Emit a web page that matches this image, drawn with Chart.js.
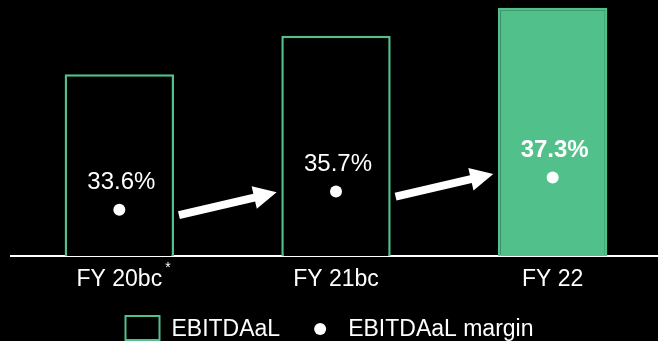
<!DOCTYPE html>
<html>
<head>
<meta charset="utf-8">
<script src="https://cdn.jsdelivr.net/npm/chart.js@4/dist/chart.umd.min.js"></script>
<style>
  html, body { margin: 0; padding: 0; background: #000; overflow: hidden; }
  canvas { display: block; }
</style>
</head>
<body>
<canvas id="chart" width="661" height="341"></canvas>
<script>
// EBITDAaL development with margin, fiscal years 20–22
const categories = ['FY 20bc', 'FY 21bc', 'FY 22'];
const tickNotes = ['*', '', ''];
const ebitdaal = [7.1, 8.6, 9.7];
const margin = [33.6, 35.7, 37.3];
const seriesNames = ['EBITDAaL', 'EBITDAaL margin'];

const GREEN = 'rgb(82,192,138)';
const WHITE = '#ffffff';
const FONT = '"Liberation Sans", Arial, Helvetica, sans-serif';

// margin labels above the dots and trend arrows between years
const annotations = {
  id: 'annotations',
  afterDatasetsDraw(chart) {
    const { ctx, scales: { x, y2 } } = chart;
    ctx.save();
    ctx.fillStyle = WHITE;
    ctx.textAlign = 'center';
    ctx.textBaseline = 'middle';
    margin.forEach((v, i) => {
      const bold = i === margin.length - 1;
      ctx.font = (bold ? 'bold ' : '') + '24px ' + FONT;
      ctx.fillText(v.toFixed(1) + '%', x.getPixelForValue(i) + 2, y2.getPixelForValue(v) - 27);
    });
    // arrows
    for (let i = 0; i < margin.length - 1; i++) {
      const x0 = x.getPixelForValue(i + 0.275);
      const x1 = x.getPixelForValue(i + 0.726);
      const y0 = y2.getPixelForValue(margin[i] - 0.6);
      const y1 = y2.getPixelForValue(margin[i] - 0.6 + 2.6);
      const ang = Math.atan2(y1 - y0, x1 - x0);
      const len = Math.hypot(x1 - x0, y1 - y0);
      const shaft = 4, headLen = 23, headHalf = 11.5;
      ctx.save();
      ctx.translate(x0, y0);
      ctx.rotate(ang);
      ctx.beginPath();
      ctx.moveTo(0, -shaft);
      ctx.lineTo(len - headLen, -shaft);
      ctx.lineTo(len - headLen, -headHalf);
      ctx.lineTo(len, 0);
      ctx.lineTo(len - headLen, headHalf);
      ctx.lineTo(len - headLen, shaft);
      ctx.lineTo(0, shaft);
      ctx.closePath();
      ctx.fill();
      ctx.restore();
    }
    ctx.restore();
  },
  afterDraw(chart) {
    const { ctx, scales: { x } } = chart;
    ctx.save();
    ctx.fillStyle = WHITE;
    // footnote markers on tick labels
    ctx.font = '23px ' + FONT;
    const widths = categories.map(c => ctx.measureText(c).width);
    ctx.font = '14px ' + FONT;
    ctx.textAlign = 'left';
    ctx.textBaseline = 'top';
    tickNotes.forEach((n, i) => {
      if (!n) return;
      ctx.fillText(n, x.getPixelForValue(i) + widths[i] / 2 + 3, x.top + 5);
    });
    // legend
    ctx.font = '23px ' + FONT;
    ctx.textBaseline = 'middle';
    const boxW = 36, boxH = 25, gapBox = 11, gapItems = 34, dotR = 6, gapDot = 22;
    const t0 = ctx.measureText(seriesNames[0]).width;
    const t1 = ctx.measureText(seriesNames[1]).width;
    const total = boxW + gapBox + t0 + gapItems + dotR * 2 + gapDot + t1;
    let lx = (658 - total) / 2;
    const ly = 329;
    ctx.strokeStyle = GREEN;
    ctx.lineWidth = 2;
    ctx.strokeRect(lx + 1, ly - 14 + 1, boxW - 2, boxH - 2 + 1);
    lx += boxW + gapBox;
    ctx.fillText(seriesNames[0], lx, ly + 1);
    lx += t0 + gapItems;
    ctx.beginPath();
    ctx.arc(lx + dotR, ly, dotR, 0, Math.PI * 2);
    ctx.fill();
    lx += dotR * 2 + gapDot;
    ctx.fillText(seriesNames[1], lx, ly + 1);
    ctx.restore();
  }
};

new Chart(document.getElementById('chart'), {
  data: {
    labels: categories,
    datasets: [
      {
        type: 'line',
        label: seriesNames[1],
        data: margin,
        yAxisID: 'y2',
        showLine: false,
        pointRadius: 6,
        pointHoverRadius: 6,
        pointBackgroundColor: WHITE,
        pointBorderWidth: 0,
        order: 0
      },
      {
        type: 'bar',
        label: seriesNames[0],
        data: ebitdaal,
        yAxisID: 'y',
        backgroundColor: c => c.dataIndex === categories.length - 1 ? GREEN : '#000',
        borderColor: GREEN,
        borderWidth: 2.5,
        categoryPercentage: 1,
        barPercentage: 0.505,
        order: 1
      }
    ]
  },
  options: {
    responsive: false,
    animation: false,
    events: [],
    layout: { autoPadding: false, padding: { left: 11, right: 0, top: 0, bottom: 0 } },
    plugins: { legend: { display: false }, tooltip: { enabled: false } },
    scales: {
      x: {
        z: 1,
        grid: { display: false, drawTicks: false },
        border: { display: true, color: WHITE, width: 2 },
        ticks: { color: WHITE, padding: 10, font: { family: FONT, size: 23 } },
        afterFit: s => { s.height = 85; }
      },
      y: { display: false, min: 0, max: 10 },
      y2: { display: false, min: 28.31, max: 57.63 }
    }
  },
  plugins: [annotations]
});
</script>
</body>
</html>
